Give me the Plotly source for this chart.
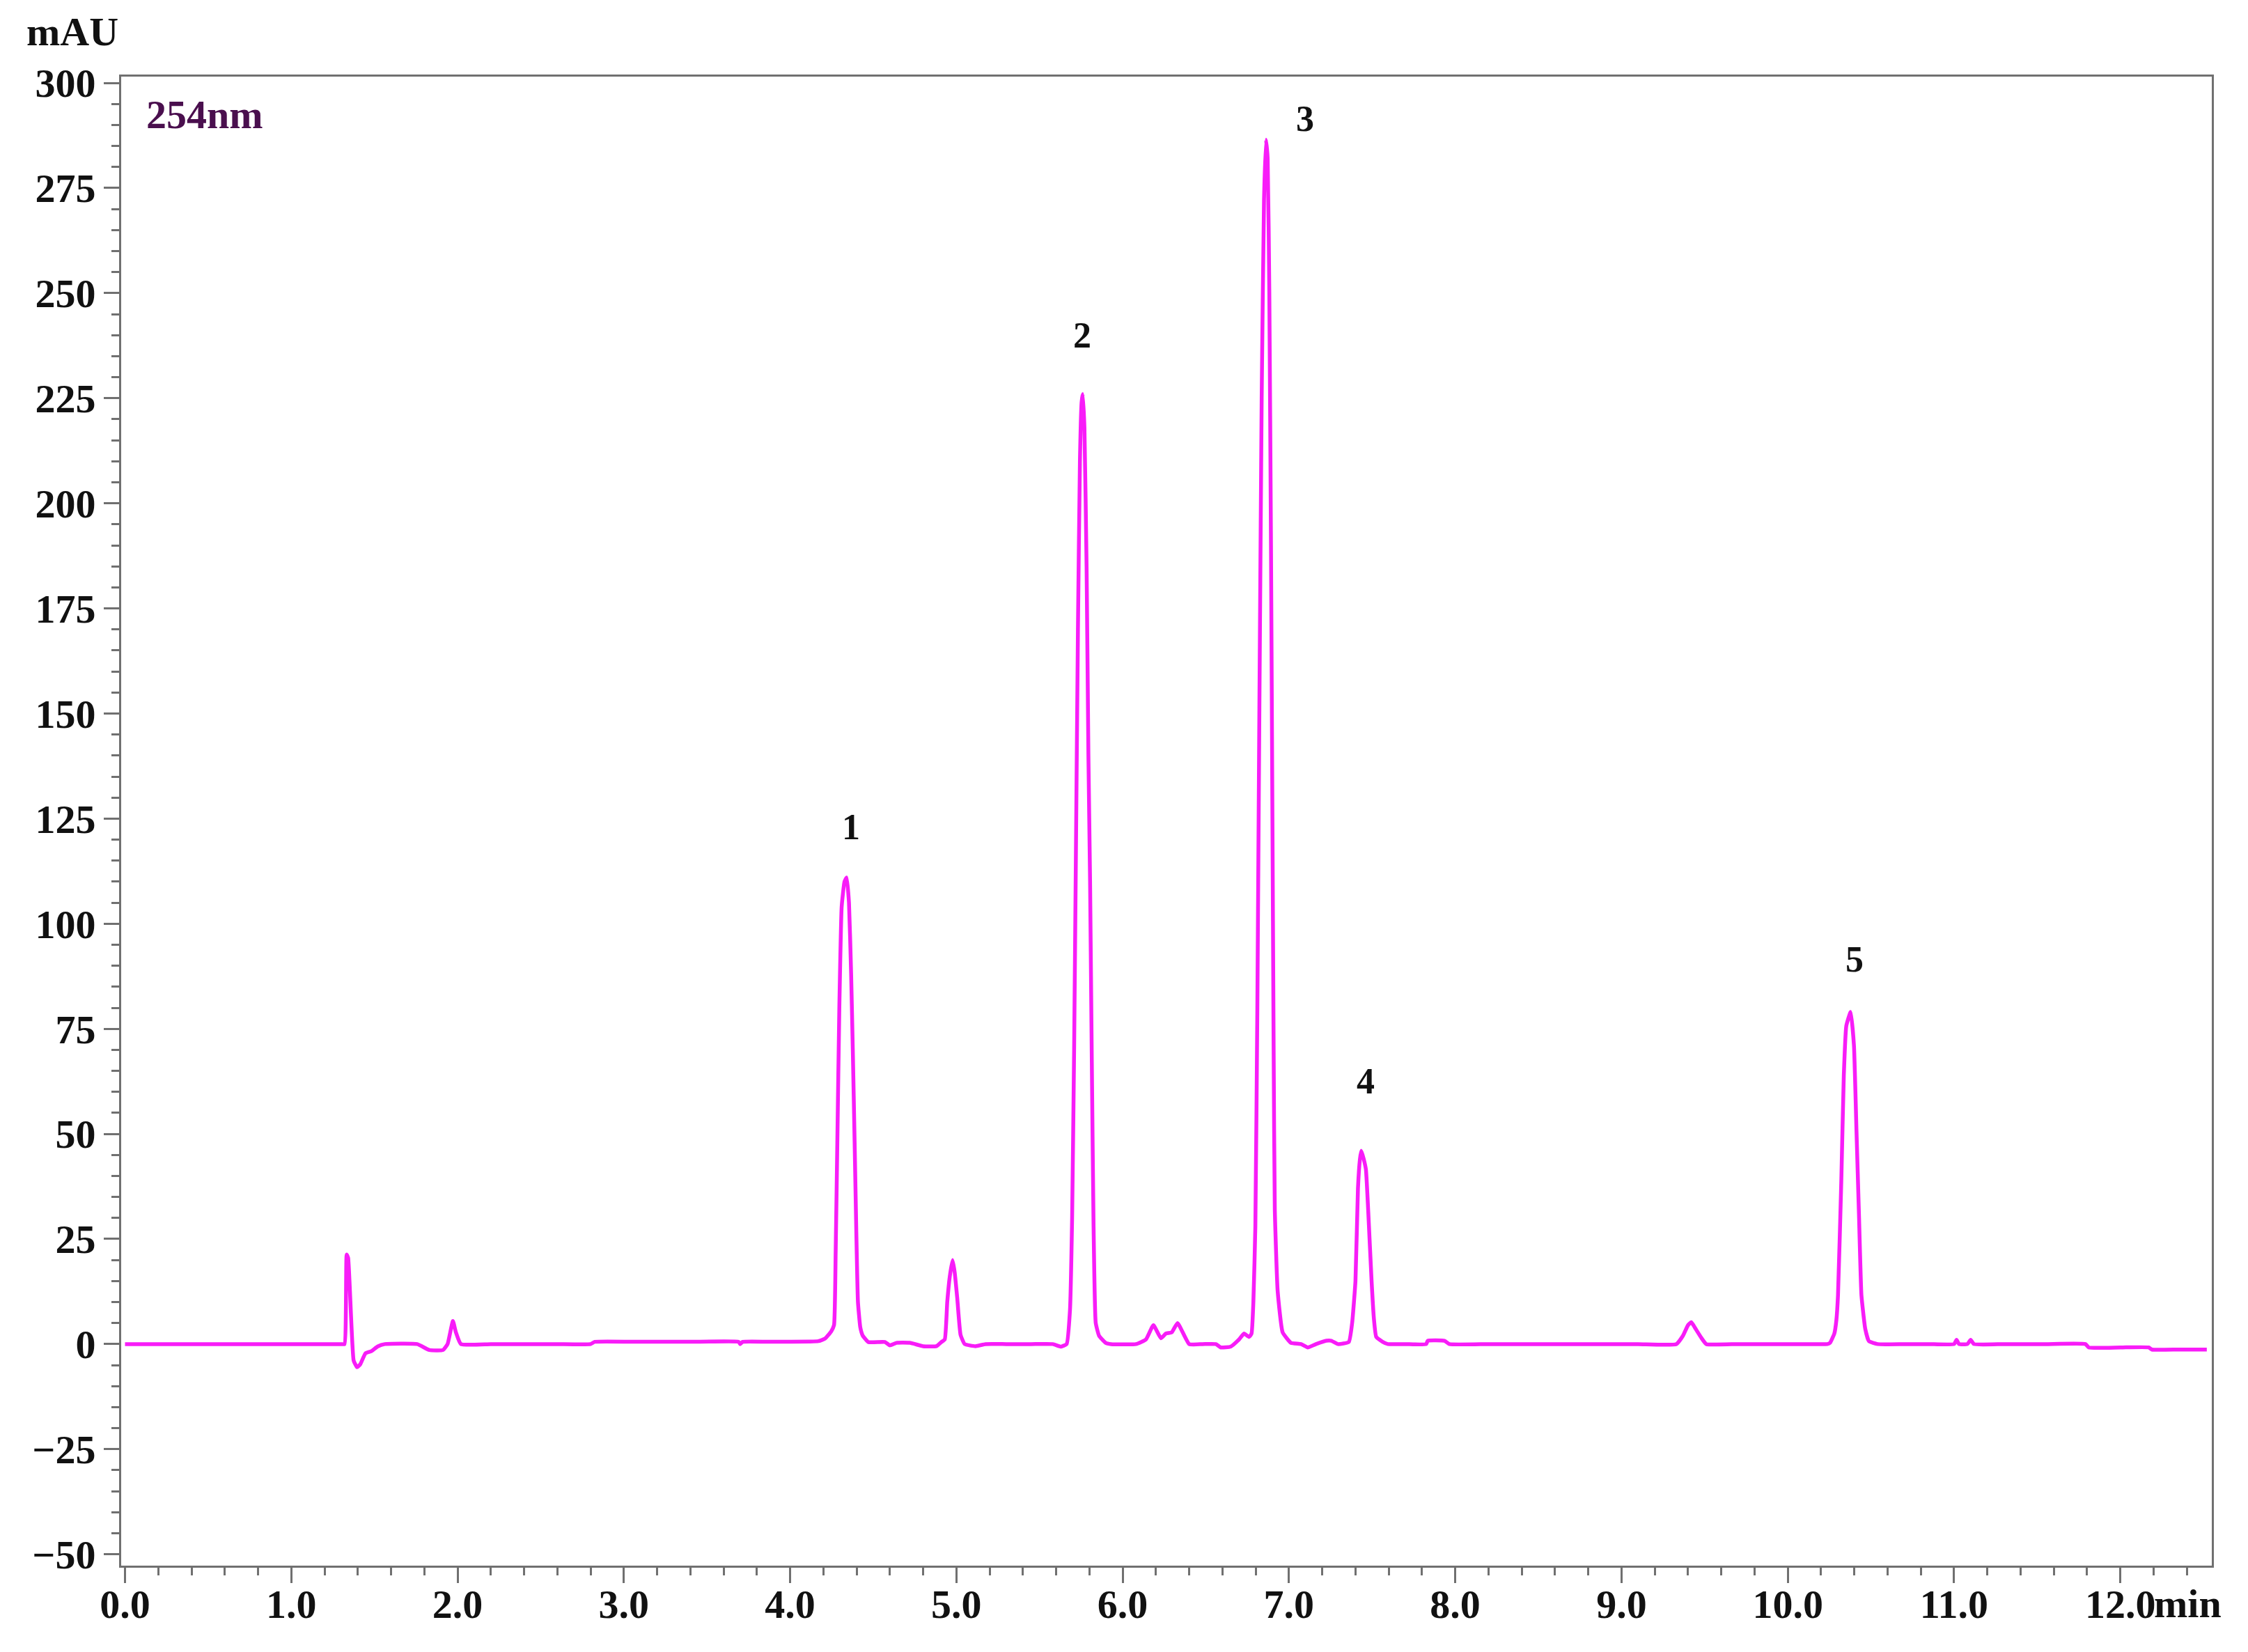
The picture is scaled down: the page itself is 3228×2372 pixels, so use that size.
import plotly.graph_objects as go

# Chromatogram trace: retention time (min) and signal (mAU)
time_min = [
    0.00, 0.65, 1.300, 1.320, 1.333, 1.342, 1.375, 1.396, 1.415, 1.446, 1.481, 1.520, 1.563,
    1.757, 1.830, 1.913, 1.940, 1.972, 1.990, 2.020, 2.200, 2.400, 2.600,
    2.800, 2.825, 3.100, 3.400, 3.690, 3.700, 3.715, 3.900, 4.120, 4.170, 4.210, 4.247, 4.264,
    4.274, 4.284, 4.296, 4.310, 4.327, 4.340, 4.354, 4.367, 4.377, 4.388, 4.398, 4.408,
    4.422, 4.437, 4.470, 4.570, 4.600, 4.640, 4.720, 4.800, 4.880, 4.910,
    4.930, 4.945, 4.960, 4.977, 4.990, 5.005, 5.025, 5.050, 5.115, 5.175, 5.300, 5.450,
    5.580, 5.628, 5.663, 5.683, 5.696, 5.708, 5.718, 5.731, 5.743, 5.753, 5.760, 5.770,
    5.783, 5.794, 5.804, 5.815, 5.825, 5.838, 5.858, 5.898, 5.930,
    6.080, 6.140, 6.185, 6.230, 6.260, 6.295, 6.330, 6.400, 6.480, 6.560, 6.590, 6.650, 6.700,
    6.730, 6.760, 6.775, 6.786,
    6.798, 6.810, 6.822, 6.836, 6.850, 6.862, 6.872, 6.882, 6.892, 6.900, 6.908, 6.915,
    6.932, 6.962, 7.012, 7.073, 7.113, 7.163,
    7.225, 7.255, 7.295, 7.360, 7.380, 7.400, 7.415, 7.427, 7.435, 7.450, 7.463, 7.477,
    7.497, 7.511, 7.525, 7.565, 7.595, 7.700, 7.825, 7.835, 7.935, 7.965,
    8.200, 8.500, 8.800, 9.100, 9.330, 9.370, 9.400, 9.420, 9.440, 9.480, 9.510,
    9.700, 9.900, 10.100, 10.238, 10.254, 10.280, 10.292, 10.302, 10.322, 10.337, 10.352,
    10.378, 10.398, 10.413, 10.428, 10.443, 10.466, 10.488, 10.540, 10.700, 10.850,
    11.000, 11.015, 11.030, 11.080, 11.100, 11.120, 11.300, 11.550, 11.790, 11.810,
    12.000, 12.170, 12.190, 12.350, 12.520,
]
signal_mau = [
    0.0, 0.0, 0.0, 0.0, 21.3, 20.5, -3.9, -5.5, -4.8, -2.2, -1.7, -0.55, 0.0,
    0.0, -1.4, -1.4, 0.0, 5.5, 2.8, 0.0, 0.0, 0.0, 0.0,
    0.0, 0.55, 0.55, 0.55, 0.55, 0.0, 0.55, 0.55, 0.6, 0.7, 1.3, 3.0, 4.5,
    22.0, 48.0, 80.0, 104.0, 110.0, 111.0, 105.0, 88.0, 70.0, 48.0, 27.0, 10.0,
    4.0, 2.0, 0.5, 0.5, -0.3, 0.3, 0.3, -0.5, -0.5, 0.5,
    1.1, 10.0, 16.0, 20.0, 17.0, 11.0, 2.2, 0.0, -0.5, 0.0, 0.0, 0.0,
    0.0, -0.6, 0.0, 8.0, 30.0, 70.0, 113.0, 170.0, 210.0, 224.0, 226.0, 218.0,
    185.0, 140.0, 110.0, 65.0, 28.0, 5.0, 2.0, 0.3, 0.0,
    0.0, 1.1, 4.5, 1.4, 2.5, 2.8, 5.0, 0.0, 0.0, 0.0, -0.8, -0.6, 1.1,
    2.5, 1.7, 2.5, 10.0,
    28.0, 80.0, 150.0, 225.0, 272.0, 286.5, 282.0, 250.0, 190.0, 130.0, 70.0, 32.0,
    12.7, 2.8, 0.3, 0.0, -0.8, 0.0,
    0.8, 0.8, 0.0, 0.5, 5.0, 15.0, 37.0, 44.0, 46.0, 44.0, 41.5, 31.5,
    15.0, 6.0, 1.7, 0.5, 0.0, 0.0, 0.0, 0.8, 0.8, 0.0,
    0.0, 0.0, 0.0, 0.0, 0.0, 2.0, 4.5, 5.2, 4.0, 1.5, 0.0,
    0.0, 0.0, 0.0, 0.0, 0.3, 2.5, 5.6, 11.6, 39.0, 64.0, 75.7,
    79.0, 71.0, 51.0, 31.0, 11.6, 3.6, 0.7, 0.0, 0.0, 0.0,
    0.0, 1.0, 0.0, 0.0, 1.0, 0.0, 0.0, 0.0, 0.0, -0.8,
    -0.8, -0.8, -1.3, -1.3, -1.3,
]

peak_ids = ["1", "2", "3", "4", "5"]
peak_label_x = [4.366, 5.756, 7.095, 7.46, 10.40]
peak_label_y = [123.0, 240.0, 291.5, 62.5, 91.5]

x_tickvals = list(range(0, 13))
x_ticktext = [f"{v:.1f}" for v in x_tickvals]
y_tickvals = list(range(-50, 301, 25))

FONT = "Liberation Serif"
AXIS_GRAY = "#707070"
TXT = "#111111"

fig = go.Figure()
fig.add_trace(go.Scatter(
    x=time_min, y=signal_mau,
    mode="lines",
    line=dict(color="#F81CF8", width=5.5, shape="spline", smoothing=0.4),
    hoverinfo="skip",
    showlegend=False,
))

for label, lx, ly in zip(peak_ids, peak_label_x, peak_label_y):
    fig.add_annotation(x=lx, y=ly, text=label, showarrow=False,
                       font=dict(family=FONT, size=52, color=TXT, weight="bold"))

fig.add_annotation(x=0.12, y=292.4, text="254nm", showarrow=False, xanchor="left",
                   font=dict(family=FONT, size=58, color="#4A0F4E", weight="bold"))
fig.add_annotation(xref="paper", yref="paper", x=-0.046, y=1.03, text="mAU",
                   showarrow=False, xanchor="left", yanchor="middle",
                   font=dict(family=FONT, size=58, color=TXT, weight="bold"))
# unit tacked on to the last x tick label
fig.add_annotation(x=12.0, yref="paper", y=0, text="min", showarrow=False,
                   xanchor="left", yanchor="top", xshift=46, yshift=-20,
                   font=dict(family=FONT, size=58, color=TXT, weight="bold"))

axis_common = dict(
    showline=True, linecolor=AXIS_GRAY, linewidth=3, mirror=True,
    showgrid=False, zeroline=False,
    ticks="outside", ticklen=22, tickwidth=3, tickcolor=AXIS_GRAY,
    tickfont=dict(family=FONT, size=58, color=TXT, weight="bold"),
)

fig.update_xaxes(
    range=[-0.023, 12.55], tickmode="array", tickvals=x_tickvals, ticktext=x_ticktext,
    ticklabelstandoff=-20,
    minor=dict(dtick=0.2, ticks="outside", ticklen=11, tickwidth=3, tickcolor=AXIS_GRAY),
    **axis_common,
)
fig.update_yaxes(
    range=[-52.7, 301.5], tickmode="array", tickvals=y_tickvals,
    minor=dict(dtick=5, ticks="outside", ticklen=11, tickwidth=3, tickcolor=AXIS_GRAY),
    **axis_common,
)

fig.update_layout(
    width=3228, height=2372, autosize=False,
    margin=dict(l=166, r=60, t=102, b=132),
    plot_bgcolor="white", paper_bgcolor="white",
)

fig.write_html("out.html")
